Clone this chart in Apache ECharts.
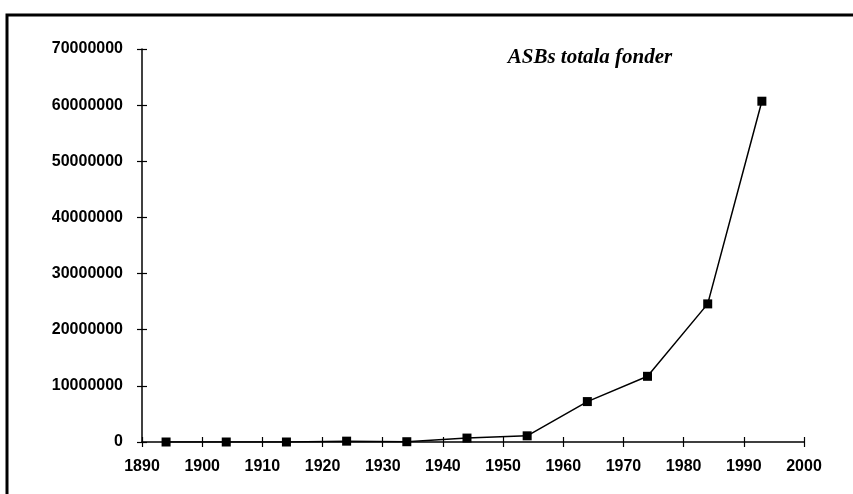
<!DOCTYPE html>
<html><head><meta charset="utf-8">
<script src="https://cdn.jsdelivr.net/npm/echarts@6/dist/echarts.min.js"></script>
<style>html,body{margin:0;padding:0;background:#fff}#c{width:853px;height:494px}</style>
</head><body><div id="c"></div>
<script>
const years = [1894, 1904, 1914, 1924, 1934, 1944, 1954, 1964, 1974, 1984, 1993];
const funds = [0, 0, 0, 150000, 50000, 700000, 1100000, 7200000, 11700000, 24600000, 60700000];
const titleText = 'ASBs totala fonder';
const xMin = 1890, xMax = 2000, xStep = 10;
const yMin = 0, yMax = 70000000, yStep = 10000000;

const chart = echarts.init(document.getElementById('c'));
const grid = {left: 142, right: 49, top: 49, bottom: 52};
const lbl = {fontFamily: 'Liberation Sans', fontWeight: 'bold', fontSize: 16, color: '#000'};
chart.setOption({
  animation: false,
  backgroundColor: '#fff',
  title: {text: titleText, left: 585, top: 42, textAlign: 'center',
    textStyle: {fontFamily: 'Liberation Serif', fontStyle: 'italic', fontWeight: 'bold', fontSize: 21, color: '#000'}},
  grid: grid,
  xAxis: [{type: 'value', min: xMin, max: xMax, interval: xStep,
    axisLine: {lineStyle: {color: '#000', width: 1.5}},
    axisTick: {length: 5, lineStyle: {color: '#000', width: 1.2}},
    axisLabel: Object.assign({margin: 17, formatter: v => String(v)}, lbl),
    splitLine: {show: false}},
   {type: 'value', min: xMin, max: xMax, interval: xStep, position: 'bottom',
    axisLine: {show: false}, axisTick: {inside: true, length: 5, lineStyle: {color: '#000', width: 1.2}},
    axisLabel: {show: false}, splitLine: {show: false}}],
  yAxis: [{type: 'value', min: yMin, max: yMax, interval: yStep,
    axisLine: {show: true, lineStyle: {color: '#000', width: 1.5}},
    axisTick: {show: true, length: 5, lineStyle: {color: '#000', width: 1.2}},
    axisLabel: Object.assign({margin: 19, formatter: v => String(v)}, lbl),
    splitLine: {show: false}},
   {type: 'value', min: yMin, max: yMax, interval: yStep, position: 'left',
    axisLine: {show: false}, axisTick: {show: true, inside: true, length: 5, lineStyle: {color: '#000', width: 1.2}},
    axisLabel: {show: false}, splitLine: {show: false}}],
  graphic: [{type: 'polyline', shape: {points: [[7, 600], [7, 15], [900, 15]]},
    style: {stroke: '#000', lineWidth: 3, fill: null}, silent: true}],
  series: [{type: 'line', data: years.map((y, i) => [y, funds[i]]),
    symbol: 'rect', symbolSize: 9, showSymbol: true,
    lineStyle: {color: '#000', width: 1.5},
    itemStyle: {color: '#000', borderWidth: 0}}]
});
</script></body></html>
